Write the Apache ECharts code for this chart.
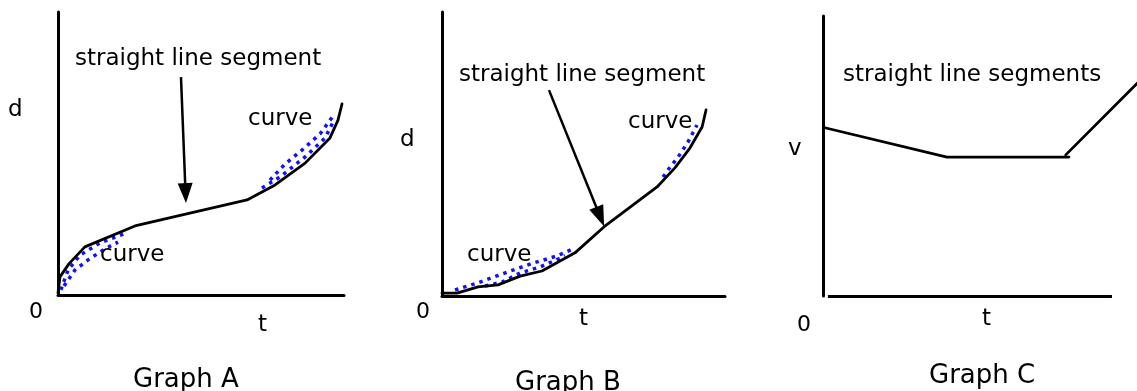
<!DOCTYPE html>
<html>
<head>
<meta charset="utf-8">
<script src="https://cdn.jsdelivr.net/npm/echarts@6/dist/echarts.min.js"></script>
<style>
html,body{margin:0;padding:0;background:#fff;}
#chart{width:1137px;height:391px;}
</style>
</head>
<body>
<div id="chart"></div>
<script>
// ---- data (t, d / v in arbitrary units, 0..10 across each plot) ----
const curveA = [[0,0.07],[0.07,0.64],[0.38,1.10],[0.94,1.70],[2.69,2.44],[6.61,3.36],[7.59,3.89],[8.64,4.66],[9.51,5.55],[9.79,6.18],[9.93,6.75]];
const shadeA1 = [[0.10,0.18],[0.35,0.88],[0.77,1.41],[1.47,1.84],[2.31,2.16]];
const shadeA2 = [[0.21,0.32],[0.59,0.88],[1.05,1.24],[1.64,1.63],[2.10,1.87]];
const shadeA3 = [[7.13,3.78],[7.76,4.17],[8.64,4.88],[9.34,5.55],[9.65,6.18]];
const shadeA4 = [[7.41,4.06],[7.94,4.63],[8.53,5.12],[9.16,5.69],[9.62,6.33]];
const arrowA = [[4.30,7.70],[4.46,3.60]];

const curveB = [[0.0,0.10],[0.53,0.10],[1.27,0.32],[1.98,0.39],[2.76,0.70],[3.53,0.88],[4.70,1.52],[5.72,2.43],[7.60,3.84],[8.23,4.51],[8.76,5.21],[9.19,5.95],[9.33,6.55]];
const shadeB1 = [[0.46,0.21],[1.34,0.49],[2.33,0.85],[3.22,1.16],[4.06,1.41],[4.70,1.69]];
const shadeB2 = [[1.52,0.35],[2.12,0.49],[2.76,0.81],[3.46,1.02],[4.35,1.41]];
const shadeB3 = [[7.81,4.19],[8.06,4.54],[8.34,4.89],[8.69,5.42],[9.01,6.02]];
const arrowB = [[3.78,7.25],[5.59,2.79]];

const lineC1 = [[0.10,6.00],[4.29,4.96],[8.51,4.96]];
const lineC2 = [[8.40,5.04],[10.97,7.70]];
const axisC = [[0.17,0],[10.0,0]];

// ---- texts ----
const graphTitles = ['Graph A', 'Graph B', 'Graph C'];
const yNames = ['d', 'd', 'v'];
const xName = 't';
const originLabel = '0';
const segmentNotes = ['straight line segment', 'straight line segment', 'straight line segments'];
const curveNote = 'curve';

const FONT = '"DejaVu Sans", Verdana, sans-serif';
function txt(str, x, baseline, size) {
  return {
    type: 'text', silent: true, z: 100,
    style: {
      text: str, x: x, y: baseline - size * 0.35,
      font: size + 'px ' + FONT, fill: '#000',
      align: 'left', verticalAlign: 'middle',
      textAlign: 'left', textVerticalAlign: 'middle'
    }
  };
}

const grids = [
  {left: 58, top: 12, width: 286, height: 283},
  {left: 442, top: 12, width: 283, height: 284},
  {left: 823, top: 16, width: 317, height: 280}
];
const xMax = [10, 10, 10.97];

function axis(i, isX) {
  const hideLine = (isX && i === 2);
  return {
    type: 'value', gridIndex: i, min: 0, max: isX ? xMax[i] : 10,
    axisLine: {show: !hideLine, onZero: false, lineStyle: {color: '#000', width: 3}},
    axisTick: {show: false}, axisLabel: {show: false}, splitLine: {show: false}
  };
}

function curve(data, i, extra) {
  return Object.assign({
    type: 'line', data: data, xAxisIndex: i, yAxisIndex: i,
    showSymbol: false, symbol: 'none', smooth: false, silent: true,
    lineStyle: {color: '#000', width: 2.8, cap: 'round', join: 'round'},
    z: 5
  }, extra || {});
}
function dots(data, i) {
  return {
    type: 'line', data: data, xAxisIndex: i, yAxisIndex: i,
    showSymbol: false, symbol: 'none', silent: true,
    lineStyle: {color: '#1010ff', width: 3.5, type: [3.5, 5], cap: 'butt'},
    z: 3
  };
}
function arrow(seg, size) {
  return {
    silent: true, animation: false,
    symbol: ['none', 'triangle'], symbolSize: size,
    lineStyle: {color: '#000', width: 2.5, type: 'solid'},
    label: {show: false},
    emphasis: {disabled: true},
    data: [[{coord: seg[0]}, {coord: seg[1]}]]
  };
}
function plainLine(seg) {
  return {
    silent: true, animation: false,
    symbol: ['none', 'none'],
    lineStyle: {color: '#000', width: 3, type: 'solid'},
    label: {show: false},
    emphasis: {disabled: true},
    data: [[{coord: seg[0]}, {coord: seg[1]}]]
  };
}

const option = {
  animation: false,
  backgroundColor: '#fff',
  grid: grids.map(g => Object.assign({outerBoundsMode: 'none', containLabel: false}, g)),
  xAxis: [axis(0, true), axis(1, true), axis(2, true)],
  yAxis: [axis(0, false), axis(1, false), axis(2, false)],
  series: [
    dots(shadeA1, 0), dots(shadeA2, 0), dots(shadeA3, 0), dots(shadeA4, 0),
    curve(curveA, 0, {markLine: arrow(arrowA, [15, 20])}),
    dots(shadeB1, 1), dots(shadeB2, 1), dots(shadeB3, 1),
    curve(curveB, 1, {markLine: arrow(arrowB, [15, 21])}),
    curve(lineC1, 2, {markLine: plainLine(axisC)}),
    curve(lineC2, 2)
  ],
  graphic: [
    txt(segmentNotes[0], 75, 67, 23),
    txt(yNames[0], 8, 118, 23),
    txt(curveNote, 248, 127, 23),
    txt(curveNote, 100, 263, 23),
    txt(originLabel, 29, 320, 22),
    txt(xName, 258, 333, 23),
    txt(graphTitles[0], 133, 389, 26),

    txt(segmentNotes[1], 459, 83, 23),
    txt(yNames[1], 400, 148, 23),
    txt(curveNote, 628, 130, 23),
    txt(curveNote, 467, 263, 23),
    txt(originLabel, 416, 320, 22),
    txt(xName, 579, 327, 23),
    txt(graphTitles[1], 515, 392, 26),

    txt(segmentNotes[2], 843, 83, 23),
    txt(yNames[2], 788, 157, 23),
    txt(originLabel, 797, 333, 22),
    txt(xName, 982, 327, 23),
    txt(graphTitles[2], 929, 385, 26)
  ]
};

const chart = echarts.init(document.getElementById('chart'), null, {renderer: 'canvas'});
chart.setOption(option);
</script>
</body>
</html>
